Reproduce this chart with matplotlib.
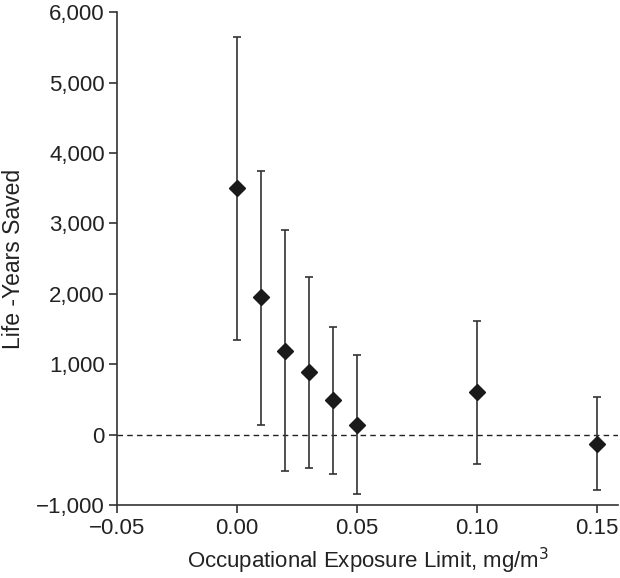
import matplotlib
matplotlib.use("Agg")
import matplotlib.pyplot as plt
from matplotlib.ticker import FuncFormatter

plt.rcParams["font.family"] = ["Liberation Sans", "DejaVu Sans"]

# Occupational exposure limit (mg/m3) and life-years saved with interval bounds
oel = [0.00, 0.01, 0.02, 0.03, 0.04, 0.05, 0.10, 0.15]
life_years = [3500, 1950, 1190, 890, 490, 140, 600, -130]
upper = [5650, 3750, 2900, 2240, 1530, 1130, 1610, 530]
lower = [1340, 140, -520, -470, -560, -840, -410, -790]

yerr = [[m - lo for m, lo in zip(life_years, lower)],
        [hi - m for m, hi in zip(life_years, upper)]]

fig = plt.figure(figsize=(6.2, 5.78), dpi=100)
ax = fig.add_axes([0.189, 0.126, 0.808, 0.853])

ax.axhline(0, color="#222222", linestyle=(0, (4, 3)), linewidth=1.0, zorder=1)
ax.errorbar(oel, life_years, yerr=yerr, fmt="D", color="#1a1a1a",
            ecolor="#333333", elinewidth=1.2, capsize=3, capthick=1.2,
            markersize=8, zorder=3)

ax.set_xlim(-0.05, 0.159)
ax.set_ylim(-1000, 6000)
ax.set_xticks([-0.05, 0.00, 0.05, 0.10, 0.15])
ax.set_yticks(range(-1000, 6001, 1000))
ax.xaxis.set_major_formatter(FuncFormatter(lambda v, p: f"{v:.2f}".replace("-", "\u2212")))
ax.yaxis.set_major_formatter(FuncFormatter(lambda v, p: f"{int(v):,}".replace("-", "\u2212")))

for side in ["top", "right"]:
    ax.spines[side].set_visible(False)
for side in ["left", "bottom"]:
    ax.spines[side].set_color("#333333")
    ax.spines[side].set_linewidth(1.2)
ax.tick_params(direction="out", length=6, width=1.2, color="#333333",
               labelsize=16, labelcolor="#222222", pad=3)

ax.set_xlabel("Occupational Exposure Limit, mg/m$^3$", fontsize=16, color="#222222", labelpad=5)
ax.set_ylabel("Life -Years Saved", fontsize=16.5, color="#222222", labelpad=8)

fig.savefig("out.png", dpi=100)
